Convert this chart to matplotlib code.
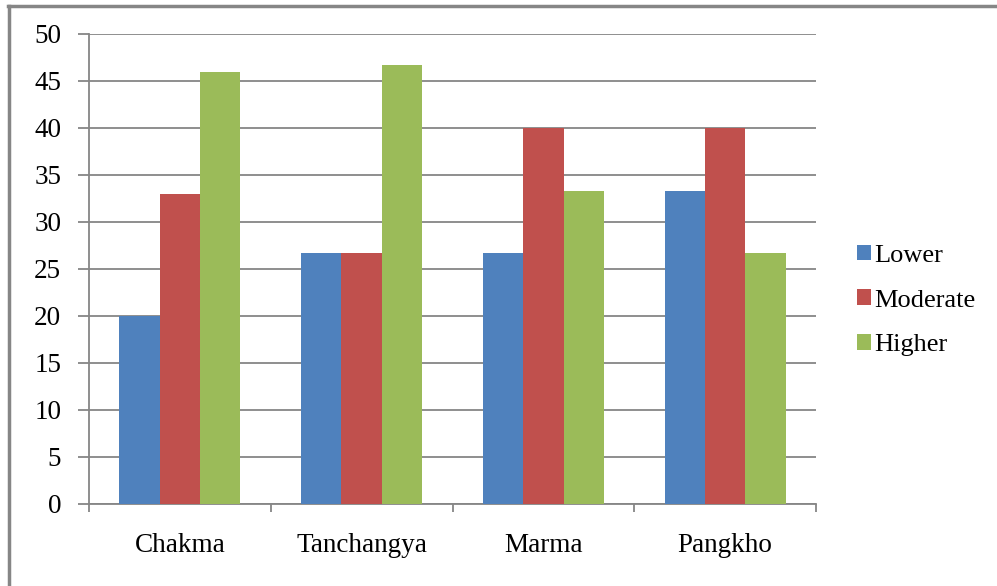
import numpy as np
import matplotlib.pyplot as plt
from matplotlib.lines import Line2D

# Données
groupes = ["Chakma", "Tanchangya", "Marma", "Pangkho"]
lower = [20, 26.67, 26.67, 33.33]
moderate = [33, 26.67, 40, 40]
higher = [46, 46.67, 33.33, 26.67]
series = ["Lower", "Moderate", "Higher"]
couleurs = ["#4f81bd", "#c0504d", "#9bbb59"]

plt.rcParams['font.family'] = ['Liberation Serif', 'DejaVu Serif']

fig = plt.figure(figsize=(9.97, 5.86), dpi=100)
ax = fig.add_axes([0.0893, 0.140, 0.7292, 0.802])

x = np.arange(len(groupes))
w = 1 / 4.5
for i, (vals, nom, c) in enumerate(zip([lower, moderate, higher], series, couleurs)):
    ax.bar(x + (i - 1) * w, vals, w, color=c, label=nom, zorder=3)

ax.set_xlim(-0.5, len(groupes) - 0.5)
ax.set_ylim(0, 50)
ax.set_yticks(np.arange(0, 51, 5))
ax.yaxis.grid(True, color="#868686", linewidth=1.3, zorder=0)

# Ticks aux bords des catégories, étiquettes au centre
ax.set_xticks(np.arange(-0.5, len(groupes), 1))
ax.set_xticklabels([])
ax.set_xticks(x, minor=True)
ax.set_xticklabels(groupes, minor=True, fontsize=19.5)
ax.tick_params(axis='x', which='minor', length=0, pad=21)
ax.tick_params(axis='x', which='major', length=6, width=1.3, color="#868686", direction='out')
ax.tick_params(axis='y', length=8, width=1.3, color="#868686", labelsize=19.5, pad=12)

for s in ["top", "right"]:
    ax.spines[s].set_visible(False)
for s in ["left", "bottom"]:
    ax.spines[s].set_color("#868686")
    ax.spines[s].set_linewidth(1.3)

leg = ax.legend(loc="center left", bbox_to_anchor=(1.024, 0.433), frameon=False,
                fontsize=19, handlelength=0.54, handleheight=0.54, handletextpad=0.12,
                labelspacing=0.85)

# Cadre du graphique (bords gauche et haut visibles)
fig.add_artist(Line2D([0.009, 0.009], [0, 0.99], transform=fig.transFigure, color="#868686", linewidth=2.5))
fig.add_artist(Line2D([0.008, 1], [0.99, 0.99], transform=fig.transFigure, color="#868686", linewidth=2.5))

fig.savefig("out.png", dpi=100)
